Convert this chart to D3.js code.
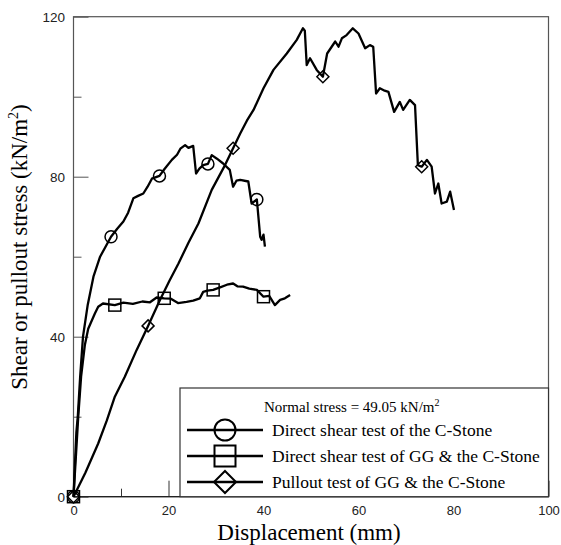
<!DOCTYPE html>
<html><head><meta charset="utf-8">
<script src="https://cdn.jsdelivr.net/npm/d3@7"></script>
<style>body{margin:0;background:#fff}svg{display:block}</style>
</head><body>
<svg id="chart" width="561" height="545"></svg>
<script>
// ---- data ----
const circleSeries = [[0,0],[0.3,8],[0.6,16],[0.9,20],[1.4,30],[2.0,40],[3.0,48],[4.2,55],[5.6,60],[7.9,65],[9.2,67],[10.5,68.8],[11.5,71],[12.6,74.6],[13.6,75.2],[14.7,75.8],[15.6,77.5],[16.5,79.5],[18.1,80.2],[19.2,82],[20.7,84.2],[21.8,85.5],[22.5,87],[23.5,87.9],[24.2,87.2],[25.2,87.7],[25.8,80.8],[26.5,82],[27.3,82.9],[28.3,83.2],[29.1,85.4],[30.2,84.5],[31.5,83.3],[32.9,81.7],[33.6,77.5],[34.3,79],[35.1,79.2],[36.8,78.8],[37.5,73.3],[38.6,74.3],[39.3,65],[39.6,64.2],[40.0,65.5],[40.3,62.5]];
const squareSeries = [[0,0],[0.5,10],[1.0,20],[1.6,30],[2.4,38],[3.1,42],[4.5,45.8],[5.2,47.5],[6.2,48.3],[8.7,47.9],[10.5,48.5],[12.5,48.2],[14.5,48.8],[16.1,48.6],[17.5,49.8],[19.1,49.6],[20.5,49.5],[22.0,48.4],[23.8,48.7],[25.2,49.0],[26.6,49.6],[27.3,51.2],[28.2,51.5],[29.4,51.7],[31.0,52.4],[32.3,53.0],[33.6,53.3],[34.5,52.6],[35.7,52.5],[37.0,52.0],[38.6,51.7],[40.0,50.0],[41.2,50.2],[42.4,47.9],[43.5,49.2],[44.5,49.6],[45.6,50.4]];
const diamondSeries = [[0,0],[2.5,6],[5.2,13.3],[7,19],[8.7,25],[10.8,30],[13.3,36.7],[15.7,42.7],[18.2,49.2],[20.2,54],[22.1,58.3],[24.2,63.5],[26.3,68.3],[29.1,76.7],[31.9,82.9],[33.6,87.1],[35.1,90.8],[36.5,94],[37.9,96.7],[40,102.1],[42.1,106.7],[44.9,110.8],[47,114.2],[48.3,117.1],[48.7,116.5],[49.1,107.9],[49.8,109.6],[51.2,106.7],[52.5,105],[53.4,110.8],[55.1,113.8],[55.8,112.5],[56.5,114.6],[57.5,115.4],[58.8,117.1],[60,115.8],[61.4,112.1],[62.4,112.9],[63.1,112.5],[63.7,100.8],[64.5,102.1],[65.5,101.5],[66.3,101.2],[67.5,96.2],[68.7,98.7],[69.4,96.7],[70.8,99.2],[71.9,97.9],[72.5,82.9],[73.3,82.5],[74.4,84.2],[75.4,82.5],[76.1,75.8],[76.8,78.3],[77.5,73.3],[78.6,73.75],[79.3,76.25],[80.1,71.7]];
const circleMarks = [[0,0],[7.9,65],[18.1,80.2],[28.3,83.2],[38.6,74.3]];
const squareMarks = [[0,0],[8.7,47.9],[19.1,49.6],[29.4,51.7],[40.0,50.0]];
const diamondMarks = [[0,0],[15.7,42.7],[33.6,87.1],[52.5,105],[73.3,82.5]];
const xTicks = [0,20,40,60,80,100];
const xMinorTicks = [10,30,50,70,90];
const yTicks = [0,40,80,120];
const yMinorTicks = [20,60,100];
const seriesNames = ["Direct shear test of the C-Stone","Direct shear test of GG & the C-Stone","Pullout test of GG & the C-Stone"];
const legendTitle = "Normal stress = 49.05 kN/m";
const xTitle = "Displacement (mm)";
const yTitle = "Shear or pullout stress (kN/m";

// ---- layout ----
const svg = d3.select("#chart");
const x = d3.scaleLinear().domain([0,100]).range([73.5,548.5]);
const y = d3.scaleLinear().domain([0,120]).range([496.7,16.7]);
const frame = "#555";

svg.append("rect").attr("x",x(0)).attr("y",y(120)).attr("width",x(100)-x(0)).attr("height",y(0)-y(120))
  .attr("fill","none").attr("stroke",frame).attr("stroke-width",1.2);

const yAx = d3.axisLeft(y).tickValues(yTicks).tickSize(-15).tickPadding(8.5).tickFormat(d3.format("d"));
const yA = svg.append("g").attr("transform",`translate(${x(0)},0)`).call(yAx);
yA.select(".domain").remove();
yA.selectAll("line").attr("stroke",frame);
yA.selectAll("text").attr("font-family","Liberation Sans, Arial, sans-serif").attr("font-size",13.5).attr("fill","#222");
const yMin = d3.axisLeft(y).tickValues(yMinorTicks).tickSize(-8).tickFormat("");
const yM = svg.append("g").attr("transform",`translate(${x(0)},0)`).call(yMin);
yM.select(".domain").remove(); yM.selectAll("line").attr("stroke",frame);

const xAx = d3.axisBottom(x).tickValues(xTicks).tickSize(-16).tickPadding(9).tickFormat(d3.format("d"));
const xA = svg.append("g").attr("transform",`translate(0,${y(0)})`).call(xAx);
xA.select(".domain").remove();
xA.selectAll("line").attr("stroke","#333");
xA.selectAll("text").attr("font-family","Liberation Sans, Arial, sans-serif").attr("font-size",13).attr("fill","#222");
const xMin = d3.axisBottom(x).tickValues(xMinorTicks).tickSize(-8).tickFormat("");
const xM = svg.append("g").attr("transform",`translate(0,${y(0)})`).call(xMin);
xM.select(".domain").remove(); xM.selectAll("line").attr("stroke","#333");
svg.append("line").attr("x1",x(0)).attr("x2",x(100)).attr("y1",y(0)).attr("y2",y(0)).attr("stroke","#222").attr("stroke-width",1.3);

const line = d3.line().x(d=>x(d[0])).y(d=>y(d[1]));
[circleSeries,squareSeries,diamondSeries].forEach(s=>{
  svg.append("path").datum(s).attr("d",line).attr("fill","none").attr("stroke","#000")
    .attr("stroke-width",2.3).attr("stroke-linejoin","round");
});

function drawMarker(sel, type, cx, cy, s, sw){
  if(type==="circle") sel.append("circle").attr("cx",cx).attr("cy",cy).attr("r",s).attr("fill","none").attr("stroke","#000").attr("stroke-width",sw);
  else if(type==="square") sel.append("rect").attr("x",cx-s).attr("y",cy-s).attr("width",2*s).attr("height",2*s).attr("fill","none").attr("stroke","#000").attr("stroke-width",sw);
  else sel.append("path").attr("d",`M${cx},${cy-s}L${cx+s},${cy}L${cx},${cy+s}L${cx-s},${cy}Z`).attr("fill","none").attr("stroke","#000").attr("stroke-width",sw);
}
circleMarks.forEach(d=>drawMarker(svg,"circle",x(d[0]),y(d[1]),6,1.5));
squareMarks.forEach(d=>drawMarker(svg,"square",x(d[0]),y(d[1]),6,1.5));
diamondMarks.forEach(d=>drawMarker(svg,"diamond",x(d[0]),y(d[1]),6,1.5));

const lg = svg.append("g");
lg.append("rect").attr("x",180).attr("y",388).attr("width",548.5-180).attr("height",y(0)-388)
  .attr("fill","#fff").attr("stroke","#333").attr("stroke-width",1.2);
const lt = lg.append("text").attr("x",264).attr("y",412).attr("font-family","Liberation Serif, Times New Roman, serif").attr("font-size",15).attr("fill","#000");
lt.append("tspan").text(legendTitle);
lt.append("tspan").attr("dy",-6).attr("font-size",10).text("2");
const types = ["circle","square","diamond"];
const rowsY = [430,456,482];
seriesNames.forEach((n,i)=>{
  lg.append("line").attr("x1",187).attr("x2",263).attr("y1",rowsY[i]).attr("y2",rowsY[i]).attr("stroke","#000").attr("stroke-width",2.5);
  drawMarker(lg,types[i],225,rowsY[i],types[i]==="diamond"?11:10.5,2);
  lg.append("text").attr("x",272).attr("y",rowsY[i]+6).attr("font-family","Liberation Serif, Times New Roman, serif").attr("font-size",17.5).attr("fill","#000").text(n);
});

svg.append("text").attr("x",309).attr("y",539.5).attr("text-anchor","middle").attr("font-family","Liberation Serif, Times New Roman, serif").attr("font-size",23).text(xTitle);
const yt = svg.append("text").attr("transform","translate(27,247) rotate(-90)").attr("text-anchor","middle").attr("font-family","Liberation Serif, Times New Roman, serif").attr("font-size",23);
yt.append("tspan").text(yTitle);
yt.append("tspan").attr("dy",-9).attr("font-size",14).text("2");
yt.append("tspan").attr("dy",9).text(")");
</script>
</body></html>
